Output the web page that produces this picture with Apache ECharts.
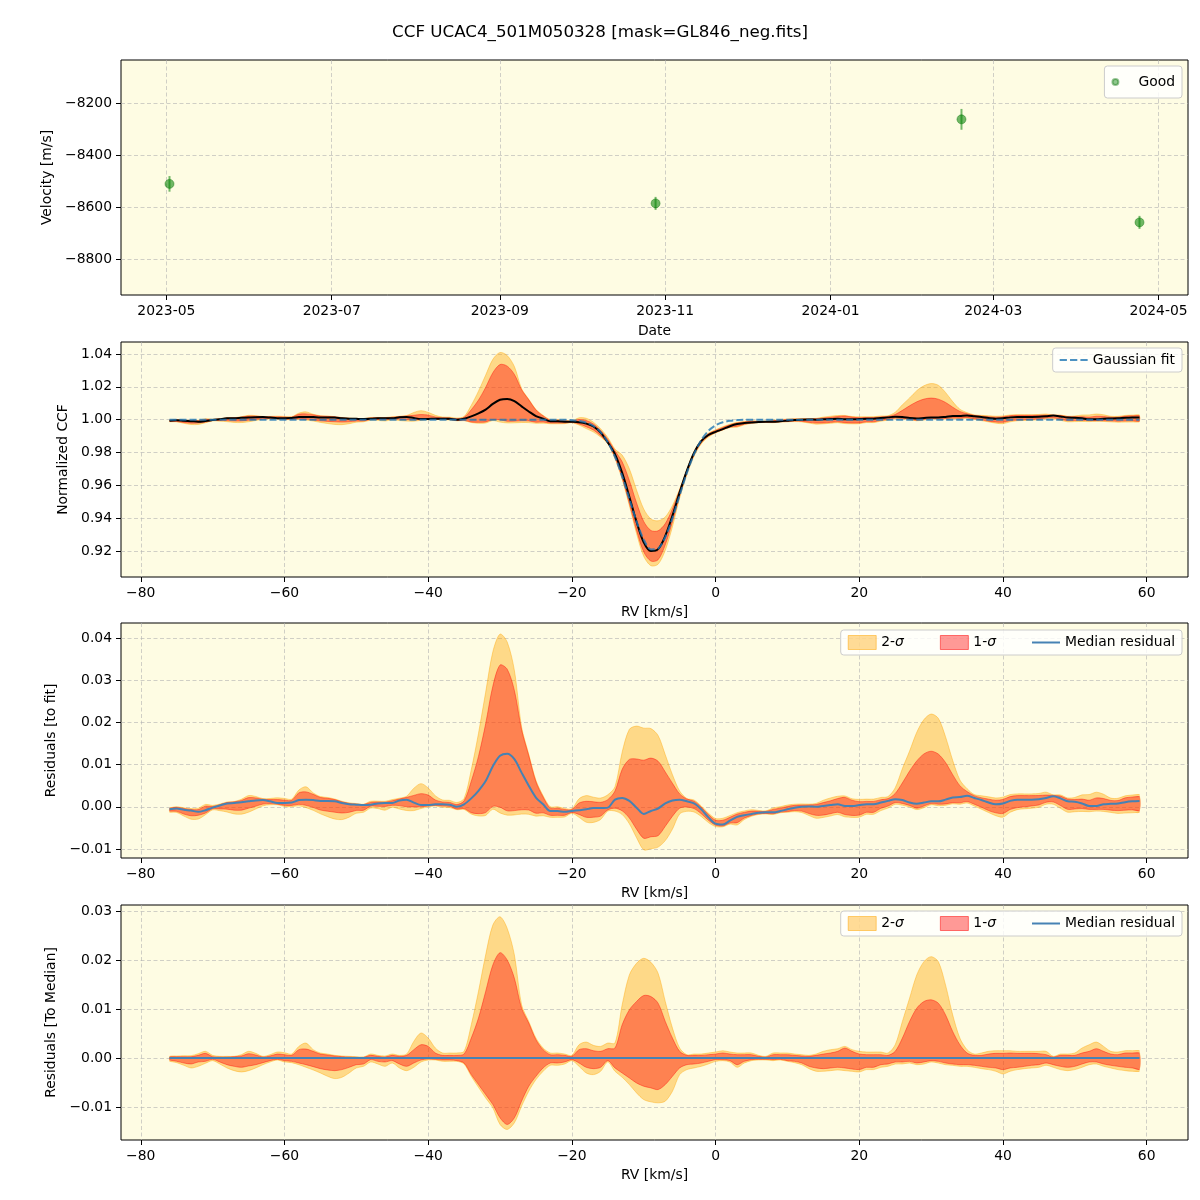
<!DOCTYPE html>
<html><head><meta charset="utf-8">
<script src="https://cdn.jsdelivr.net/npm/echarts@6/dist/echarts.min.js"></script>
<style>html,body{margin:0;padding:0;background:#fff}#c{width:1200px;height:1200px}</style>
</head><body><div id="c"></div>
<script>
// ---------- Panel 1: velocities ----------
const obsDates = ['2023-05-02T04:00:00Z','2023-10-28T11:00:00Z','2024-02-18T07:00:00Z','2024-04-23T23:00:00Z'];
const obsVel = [-8511, -8586, -8263, -8659];
const obsErr = [30, 25, 40, 25];
const dateTicks = ['2023-05-01','2023-07-01','2023-09-01','2023-11-01','2024-01-01','2024-03-01','2024-05-01'];
const velTicks = [-8800, -8600, -8400, -8200];

// ---------- RV grid (km/s) ----------
const rv = [-76,-75,-74,-73,-72,-71,-70,-69,-68,-67,
 -66,-65,-64,-63,-62,-61,-60,-59,-58,-57,
 -56,-55,-54,-53,-52,-51,-50,-49,-48,-47,
 -46,-45,-44,-43,-42,-41,-40,-39,-38,-37,
 -36,-35,-34,-33,-32,-31,-30,-29,-28,-27,
 -26,-25,-24,-23,-22,-21,-20,-19,-18,-17,
 -16,-15,-14,-13,-12,-11,-10,-9,-8,-7,
 -6,-5,-4,-3,-2,-1,0,1,2,3,
 4,5,6,7,8,9,10,11,12,13,
 14,15,16,17,18,19,20,21,22,23,
 24,25,26,27,28,29,30,31,32,33,
 34,35,36,37,38,39,40,41,42,43,
 44,45,46,47,48,49,50,51,52,53,
 54,55,56,57,58,59];
const rvTicks = [-80,-60,-40,-20,0,20,40,60];

// Gaussian fit to the CCF
const gaussFit = [1,1,1,1,1,1,1,1,1,1,
 1,1,1,1,1,1,1,1,1,1,
 1,1,1,1,1,1,1,1,1,1,
 1,1,1,1,1,1,1,1,1,1,
 1,1,1,1,1,1,1,1,1,1,
 1,1,1,1,1,1,0.9997,0.99923,0.99821,0.99616,
 0.99244,0.98633,0.97733,0.96548,0.95172,0.93803,0.92697,0.921,0.92154,0.92846,
 0.94012,0.954,0.96754,0.97897,0.9875,0.99318,0.99658,0.99842,0.99933,0.99974,
 0.99991,1,1,1,1,1,1,1,1,1,
 1,1,1,1,1,1,1,1,1,1,
 1,1,1,1,1,1,1,1,1,1,
 1,1,1,1,1,1,1,1,1,1,
 1,1,1,1,1,1,1,1,1,1,
 1,1,1,1,1,1];

// Median residual to the fit
const medRes = [-0.0006,-0.0004,-0.0007,-0.0009,-0.0012,-0.0008,-0.0002,0.0003,0.0008,0.0009,
 0.0011,0.0013,0.0015,0.0016,0.0013,0.0009,0.0009,0.0010,0.0016,0.0017,
 0.0016,0.0014,0.0014,0.0013,0.0009,0.0006,0.0005,0.0004,0.0005,0.0008,
 0.0009,0.0009,0.0015,0.0017,0.0010,0.0004,0.0004,0.0006,0.0006,0.0005,
 0.0000,0.0006,0.0020,0.0038,0.0061,0.0096,0.0121,0.0126,0.0113,0.0081,
 0.0050,0.0022,0.0006,-0.0010,-0.0010,-0.0012,-0.0010,-0.0008,-0.0006,-0.0003,
 -0.0003,-0.0002,0.0017,0.0021,0.0014,-0.0002,-0.0017,-0.0010,-0.0004,0.0008,
 0.0015,0.0017,0.0013,0.0008,-0.0006,-0.0025,-0.0040,-0.0042,-0.0033,-0.0024,
 -0.0020,-0.0017,-0.0014,-0.0013,-0.0013,-0.0010,-0.0006,-0.0002,0.0000,0.0001,
 0.0000,0.0002,0.0004,0.0006,0.0002,0.0002,0.0004,0.0006,0.0006,0.0010,
 0.0014,0.0018,0.0016,0.0010,0.0007,0.0010,0.0013,0.0013,0.0017,0.0022,
 0.0023,0.0026,0.0021,0.0016,0.0010,0.0006,0.0008,0.0014,0.0017,0.0017,
 0.0017,0.0018,0.0021,0.0025,0.0020,0.0013,0.0012,0.0008,0.0002,0.0002,
 0.0006,0.0007,0.0008,0.0011,0.0013,0.0014];

// Spread around the median (residuals to median): 2-sigma / 1-sigma upper & lower
const hi2 = [0.00034,0.00041,0.00047,0.00047,0.00088,0.00136,0.00054,0.00034,0.00034,0.00034,
 0.00068,0.00136,0.00095,0.00034,0.00068,0.00122,0.00108,0.00081,0.00237,0.00305,
 0.0017,0.00102,0.00081,0.00054,0.00041,0.00034,0.00027,0.0002,0.00081,0.00054,
 0.00041,0.00081,0.00054,0.00081,0.00339,0.00509,0.00407,0.00203,0.00102,0.00102,
 0.00102,0.00136,0.00678,0.01356,0.02102,0.02712,0.02882,0.02644,0.02102,0.01085,
 0.00746,0.00407,0.00203,0.00102,0.00102,0.00081,0.00054,0.00271,0.00325,0.00258,
 0.00237,0.00305,0.00305,0.01085,0.01695,0.01932,0.02034,0.01953,0.01729,0.01153,
 0.0061,0.00203,0.00068,0.00081,0.00081,0.00102,0.00122,0.00149,0.00122,0.00102,
 0.00102,0.00102,0.00054,0.00034,0.00102,0.00102,0.00102,0.00081,0.00068,0.00054,
 0.00081,0.00136,0.0017,0.0019,0.00237,0.0017,0.00136,0.00122,0.00122,0.00122,
 0.00102,0.00271,0.00746,0.0122,0.01695,0.01966,0.02068,0.01966,0.01492,0.00881,
 0.00407,0.0017,0.00081,0.00102,0.00136,0.00149,0.00149,0.00149,0.00136,0.00136,
 0.00136,0.00136,0.00136,0.00034,0.00081,0.00081,0.00102,0.00203,0.00271,0.00325,
 0.00237,0.00136,0.00122,0.00149,0.00149,0.00149];
const hi1 = [0.0002,0.00027,0.00027,0.00027,0.00054,0.00095,0.00027,0.0002,0.0002,0.00027,
 0.00041,0.00088,0.00061,0.0002,0.00041,0.00081,0.00068,0.00054,0.0017,0.00183,
 0.00136,0.00081,0.00061,0.00041,0.00027,0.0002,0.00014,0.00014,0.00054,0.00034,
 0.0002,0.00054,0.00034,0.00054,0.0017,0.00271,0.00237,0.00102,0.00054,0.00054,
 0.00054,0.00081,0.00407,0.00814,0.01356,0.01898,0.02149,0.02,0.01627,0.01017,
 0.00712,0.00373,0.0017,0.00068,0.00068,0.00054,0.00034,0.0017,0.0019,0.00149,
 0.00136,0.0019,0.00203,0.00678,0.00983,0.01153,0.01275,0.01254,0.01119,0.00746,
 0.00407,0.00136,0.00054,0.00054,0.00054,0.00068,0.00081,0.00102,0.00081,0.00068,
 0.00068,0.00068,0.00034,0.0002,0.00068,0.00068,0.00068,0.00054,0.00041,0.00034,
 0.00054,0.00081,0.00102,0.00136,0.00203,0.00136,0.00081,0.00068,0.00068,0.00068,
 0.00054,0.00136,0.00407,0.00746,0.01017,0.01153,0.01187,0.01119,0.00881,0.00542,
 0.00271,0.00102,0.00054,0.00054,0.00081,0.00095,0.00095,0.00102,0.00095,0.00095,
 0.00095,0.00088,0.00068,0.0002,0.00054,0.00054,0.00054,0.00102,0.00136,0.0019,
 0.00136,0.00081,0.00068,0.00102,0.00102,0.00102];
const lo1 = [-0.00041,-0.00068,-0.00102,-0.00122,-0.00081,-0.00068,-0.00027,-0.00081,-0.00136,-0.0017,
 -0.0019,-0.00163,-0.00136,-0.00095,-0.00054,-0.00027,-0.00054,-0.00068,-0.00102,-0.00136,
 -0.00176,-0.00217,-0.00244,-0.00258,-0.00237,-0.0019,-0.00136,-0.00122,-0.00034,-0.00068,
 -0.00081,-0.00054,-0.00122,-0.0017,-0.00102,-0.00041,-0.0002,-0.00027,-0.00041,-0.00041,
 -0.00054,-0.00102,-0.00339,-0.00542,-0.00746,-0.00949,-0.0122,-0.01356,-0.0122,-0.00881,
 -0.00576,-0.00373,-0.00203,-0.00102,-0.00102,-0.00081,-0.00034,-0.00102,-0.0019,-0.00217,
 -0.0019,-0.00054,-0.00203,-0.00305,-0.00407,-0.00509,-0.00576,-0.0061,-0.00644,-0.00542,
 -0.00373,-0.00203,-0.00136,-0.00122,-0.00102,-0.00068,-0.00034,-0.00034,-0.00054,-0.00136,
 -0.00068,-0.00034,-0.00027,-0.00027,-0.00034,-0.00027,-0.00054,-0.00068,-0.00102,-0.0017,
 -0.00203,-0.00217,-0.00203,-0.0019,-0.00203,-0.00224,-0.00237,-0.0019,-0.0019,-0.00136,
 -0.00122,-0.00081,-0.00081,-0.00068,-0.00102,-0.00081,-0.00054,-0.00068,-0.00102,-0.00122,
 -0.00136,-0.00136,-0.00149,-0.0017,-0.0019,-0.00203,-0.00237,-0.00203,-0.0019,-0.0017,
 -0.00149,-0.00136,-0.00102,-0.00136,-0.0017,-0.0019,-0.0017,-0.00122,-0.00081,-0.00081,
 -0.00122,-0.00149,-0.0017,-0.0019,-0.00203,-0.00237];
const lo2 = [-0.00068,-0.00095,-0.00149,-0.00203,-0.0017,-0.00108,-0.00054,-0.00122,-0.00203,-0.00258,
 -0.00285,-0.00258,-0.00203,-0.00136,-0.00081,-0.00041,-0.00081,-0.00095,-0.00136,-0.0019,
 -0.00244,-0.00305,-0.00373,-0.0042,-0.00393,-0.00305,-0.00203,-0.0017,-0.00081,-0.00122,
 -0.0017,-0.00102,-0.00203,-0.00258,-0.0019,-0.00081,-0.00041,-0.00041,-0.00068,-0.00068,
 -0.00068,-0.00122,-0.00373,-0.00597,-0.00814,-0.01017,-0.01356,-0.01458,-0.01322,-0.00983,
 -0.00678,-0.00441,-0.00271,-0.00149,-0.00149,-0.00122,-0.00054,-0.0017,-0.00305,-0.00339,
 -0.00271,-0.00081,-0.00271,-0.00393,-0.00542,-0.00712,-0.00848,-0.00895,-0.00915,-0.00881,
 -0.00678,-0.00339,-0.00237,-0.00203,-0.0017,-0.00122,-0.00068,-0.00054,-0.00081,-0.0019,
 -0.00102,-0.00054,-0.00041,-0.00041,-0.00054,-0.00041,-0.00068,-0.00095,-0.00136,-0.00217,
 -0.00271,-0.00271,-0.00258,-0.00244,-0.00258,-0.00271,-0.00285,-0.00237,-0.00237,-0.0019,
 -0.0017,-0.00122,-0.00122,-0.00102,-0.00136,-0.00122,-0.00081,-0.00102,-0.00136,-0.00149,
 -0.0017,-0.0017,-0.0019,-0.00217,-0.00237,-0.00271,-0.00325,-0.00271,-0.00237,-0.00217,
 -0.00203,-0.0019,-0.00149,-0.0019,-0.00237,-0.00258,-0.00237,-0.0019,-0.00136,-0.00122,
 -0.0017,-0.00203,-0.00237,-0.00258,-0.00271,-0.00271];
const ccfTicks = [0.92,0.94,0.96,0.98,1.00,1.02,1.04];
const resTicks = [-0.01,0,0.01,0.02,0.03,0.04];
const medTicks = [-0.01,0,0.01,0.02,0.03];

// ---------- build ----------
const FONT = 'DejaVu Sans';
const FS = 13.9;
const C2 = 'rgba(255,165,0,0.4)';
const C1 = 'rgba(255,0,0,0.4)';
const BG = '#fefce3';
const GRIDC = 'rgba(176,176,176,0.6)';
const SMOOTH = 0.3;
const minus = (s) => s.replace('-', '\u2212');
const fmt = (d) => (v) => minus(Number(v).toFixed(d));
const ts = (s) => Date.parse(s.length === 10 ? s + 'T00:00:00Z' : s);

const add = (a, b) => a.map((v, i) => v + b[i]);
// panel 3 (residual to fit) and panel 2 (CCF) are the panel-4 spreads shifted by median / fit
const p4 = { med: medRes.map(() => 0), lo2, lo1, hi1, hi2 };
const p3 = { med: medRes, lo2: add(medRes, lo2), lo1: add(medRes, lo1), hi1: add(medRes, hi1), hi2: add(medRes, hi2) };
const ccfMed = add(gaussFit, medRes);
const p2 = { med: ccfMed, lo2: add(ccfMed, lo2), lo1: add(ccfMed, lo1), hi1: add(ccfMed, hi1), hi2: add(ccfMed, hi2) };

// filled band between lo and hi, drawn through the axis scales (api.coord)
function band(gi, lo, hi, name, color) {
  return { type: 'custom', name: name, xAxisIndex: gi, yAxisIndex: gi, silent: true, z: 2,
    data: rv.map((x, i) => [x, lo[i], hi[i]]), encode: { x: 0, y: [1, 2] },
    itemStyle: { color: color },
    renderItem: (params, api) => {
      if (params.dataIndex !== 0) return null;
      const top = [], bot = [];
      for (let i = 0; i < rv.length; i++) bot.push(api.coord([rv[i], lo[i]]));
      for (let i = rv.length - 1; i >= 0; i--) top.push(api.coord([rv[i], hi[i]]));
      return { type: 'group', children: [
        { type: 'polygon', shape: { points: bot.concat(top), smooth: SMOOTH }, style: { fill: color, stroke: null } },
        { type: 'polyline', shape: { points: bot, smooth: SMOOTH }, style: { fill: null, stroke: color, lineWidth: 1 } },
        { type: 'polyline', shape: { points: top, smooth: SMOOTH }, style: { fill: null, stroke: color, lineWidth: 1 } }
      ] };
    } };
}
function line(gi, ys, name, color, width, type, z) {
  return { type: 'line', name: name, xAxisIndex: gi, yAxisIndex: gi, data: rv.map((x, i) => [x, ys[i]]),
    showSymbol: false, symbol: 'none', smooth: SMOOTH, lineStyle: { color: color, width: width, type: type || 'solid' },
    itemStyle: { color: color }, z: z || 3, silent: true };
}

const tops = [60, 342, 623, 905];
const grids = tops.map(t => ({ left: 121, right: 12, top: t, height: 235, show: true, backgroundColor: BG,
  borderColor: '#000', borderWidth: 1, containLabel: false }));

const axisText = { color: '#000', fontFamily: FONT, fontSize: FS };
const split = { show: true, lineStyle: { color: GRIDC, type: [4, 2.5], width: 1 } };
function ax(gi, name, nameGap, min, max, ticks, formatter, extra) {
  return Object.assign({ type: 'value', gridIndex: gi, name: name, nameLocation: 'middle', nameGap: nameGap,
    nameTextStyle: axisText, min: min, max: max, axisLine: { show: false, onZero: false },
    axisTick: { show: true, length: 5, customValues: ticks, lineStyle: { color: '#000', width: 1 } },
    axisLabel: Object.assign({ margin: 9, customValues: ticks, formatter: formatter }, axisText),
    splitLine: split }, extra || {});
}

const dTs = obsDates.map(ts);
const span = dTs[dTs.length - 1] - dTs[0];
const dTicks = dateTicks.map(ts);
const rvMin = -82.75, rvMax = 65.75;
const dateFmt = (v) => { const d = new Date(v); return d.getUTCFullYear() + '-' + String(d.getUTCMonth() + 1).padStart(2, '0'); };

const xAxes = [ax(0, 'Date', 29, dTs[0] - 0.05 * span, dTs[dTs.length - 1] + 0.05 * span, dTicks, dateFmt, { position: 'bottom' })];
for (let g = 1; g < 4; g++) xAxes.push(ax(g, 'RV [km/s]', 28, rvMin, rvMax, rvTicks, fmt(0), { position: 'bottom' }));
const yAxes = [
  ax(0, 'Velocity [m/s]', 64, -8938, -8035, velTicks, fmt(0), { nameRotate: 90, position: 'left' }),
  ax(1, 'Normalized CCF', 48, 0.9042, 1.0473, ccfTicks, fmt(2), { nameRotate: 90, position: 'left' }),
  ax(2, 'Residuals [to fit]', 59, -0.01213, 0.04355, resTicks, fmt(2), { nameRotate: 90, position: 'left' }),
  ax(3, 'Residuals [To Median]', 59, -0.01673, 0.03122, medTicks, fmt(2), { nameRotate: 90, position: 'left' }),
];

const MEDC = '#4682b4';
const FITC = 'rgba(31,119,180,0.8)';
const GOODC = 'rgba(0,128,0,0.7)';
const series = [
  { type: 'custom', name: '_err', xAxisIndex: 0, yAxisIndex: 0, silent: true, z: 2,
    data: dTs.map((t, i) => [t, obsVel[i] - obsErr[i], obsVel[i] + obsErr[i]]),
    encode: { x: 0, y: [1, 2] },
    renderItem: (params, api) => {
      const a = api.coord([api.value(0), api.value(1)]);
      const b = api.coord([api.value(0), api.value(2)]);
      return { type: 'line', shape: { x1: a[0], y1: a[1], x2: b[0], y2: b[1] },
        style: { stroke: 'rgba(0,128,0,0.55)', lineWidth: 2 } };
    } },
  { type: 'scatter', name: 'Good', xAxisIndex: 0, yAxisIndex: 0, symbolSize: 9,
    data: dTs.map((t, i) => [t, obsVel[i]]), itemStyle: { color: GOODC, borderColor: 'rgba(0,110,0,0.5)', borderWidth: 1 }, z: 3, silent: true },
  band(1, p2.lo2, p2.hi2, '2-σ', C2),
  band(1, p2.lo1, p2.hi1, '1-σ', C1),
  line(1, p2.med, 'CCF median', '#000', 2, 'solid', 4),
  line(1, gaussFit, 'Gaussian fit', FITC, 2, [7, 3], 5),
  band(2, p3.lo2, p3.hi2, '2-σ', C2),
  band(2, p3.lo1, p3.hi1, '1-σ', C1),
  line(2, p3.med, 'Median residual', MEDC, 2, 'solid', 4),
  band(3, p4.lo2, p4.hi2, '2-σ', C2),
  band(3, p4.lo1, p4.hi1, '1-σ', C1),
  line(3, p4.med, 'Median residual', MEDC, 2, 'solid', 4),
];

const legBase = { orient: 'horizontal', right: 18, backgroundColor: 'rgba(255,255,255,0.8)', borderColor: '#cccccc',
  borderWidth: 1, borderRadius: 3, padding: [5, 7], itemWidth: 28, itemHeight: 14, selectedMode: false,
  textStyle: { color: '#000', fontFamily: FONT, fontSize: FS,
    rich: { i: { fontStyle: 'italic', fontFamily: FONT, fontSize: FS, color: '#000' } } },
  formatter: (n) => n.replace('σ', '{i|σ}') };
const ICON_LINE = 'path://M0,0h28v2h-28z';
const ICON_DASH = 'path://M0,0h7v2h-7z M10,0h7v2h-7z M20,0h7v2h-7z';
const sigItems = [
  { name: '2-σ', icon: 'rect', itemStyle: { color: C2, borderColor: 'rgba(255,165,0,0.5)', borderWidth: 1 } },
  { name: '1-σ', icon: 'rect', itemStyle: { color: C1, borderColor: 'rgba(255,0,0,0.5)', borderWidth: 1 } },
  { name: 'Median residual', icon: ICON_LINE, itemStyle: { color: MEDC } }
];
const legends = [
  Object.assign({}, legBase, { top: 66, itemHeight: 6, itemWidth: 36, padding: [9, 7],
    data: [{ name: 'Good', icon: 'circle', itemStyle: { color: 'rgba(0,128,0,0.55)' } }] }),
  Object.assign({}, legBase, { top: 348, data: [{ name: 'Gaussian fit', icon: ICON_DASH, itemStyle: { color: FITC } }] }),
  Object.assign({}, legBase, { top: 630, itemGap: 36, data: sigItems }),
  Object.assign({}, legBase, { top: 911, itemGap: 36, data: sigItems }),
];

const chart = echarts.init(document.getElementById('c'), null, { renderer: 'canvas' });
chart.setOption({
  animation: false,
  backgroundColor: '#ffffff',
  title: { text: 'CCF UCAC4_501M050328 [mask=GL846_neg.fits]', left: 'center', top: 24, padding: 0,
    textStyle: { fontFamily: FONT, fontSize: 16.7, fontWeight: 'normal', color: '#000' } },
  grid: grids, xAxis: xAxes, yAxis: yAxes, legend: legends, series: series
});
</script></body></html>
